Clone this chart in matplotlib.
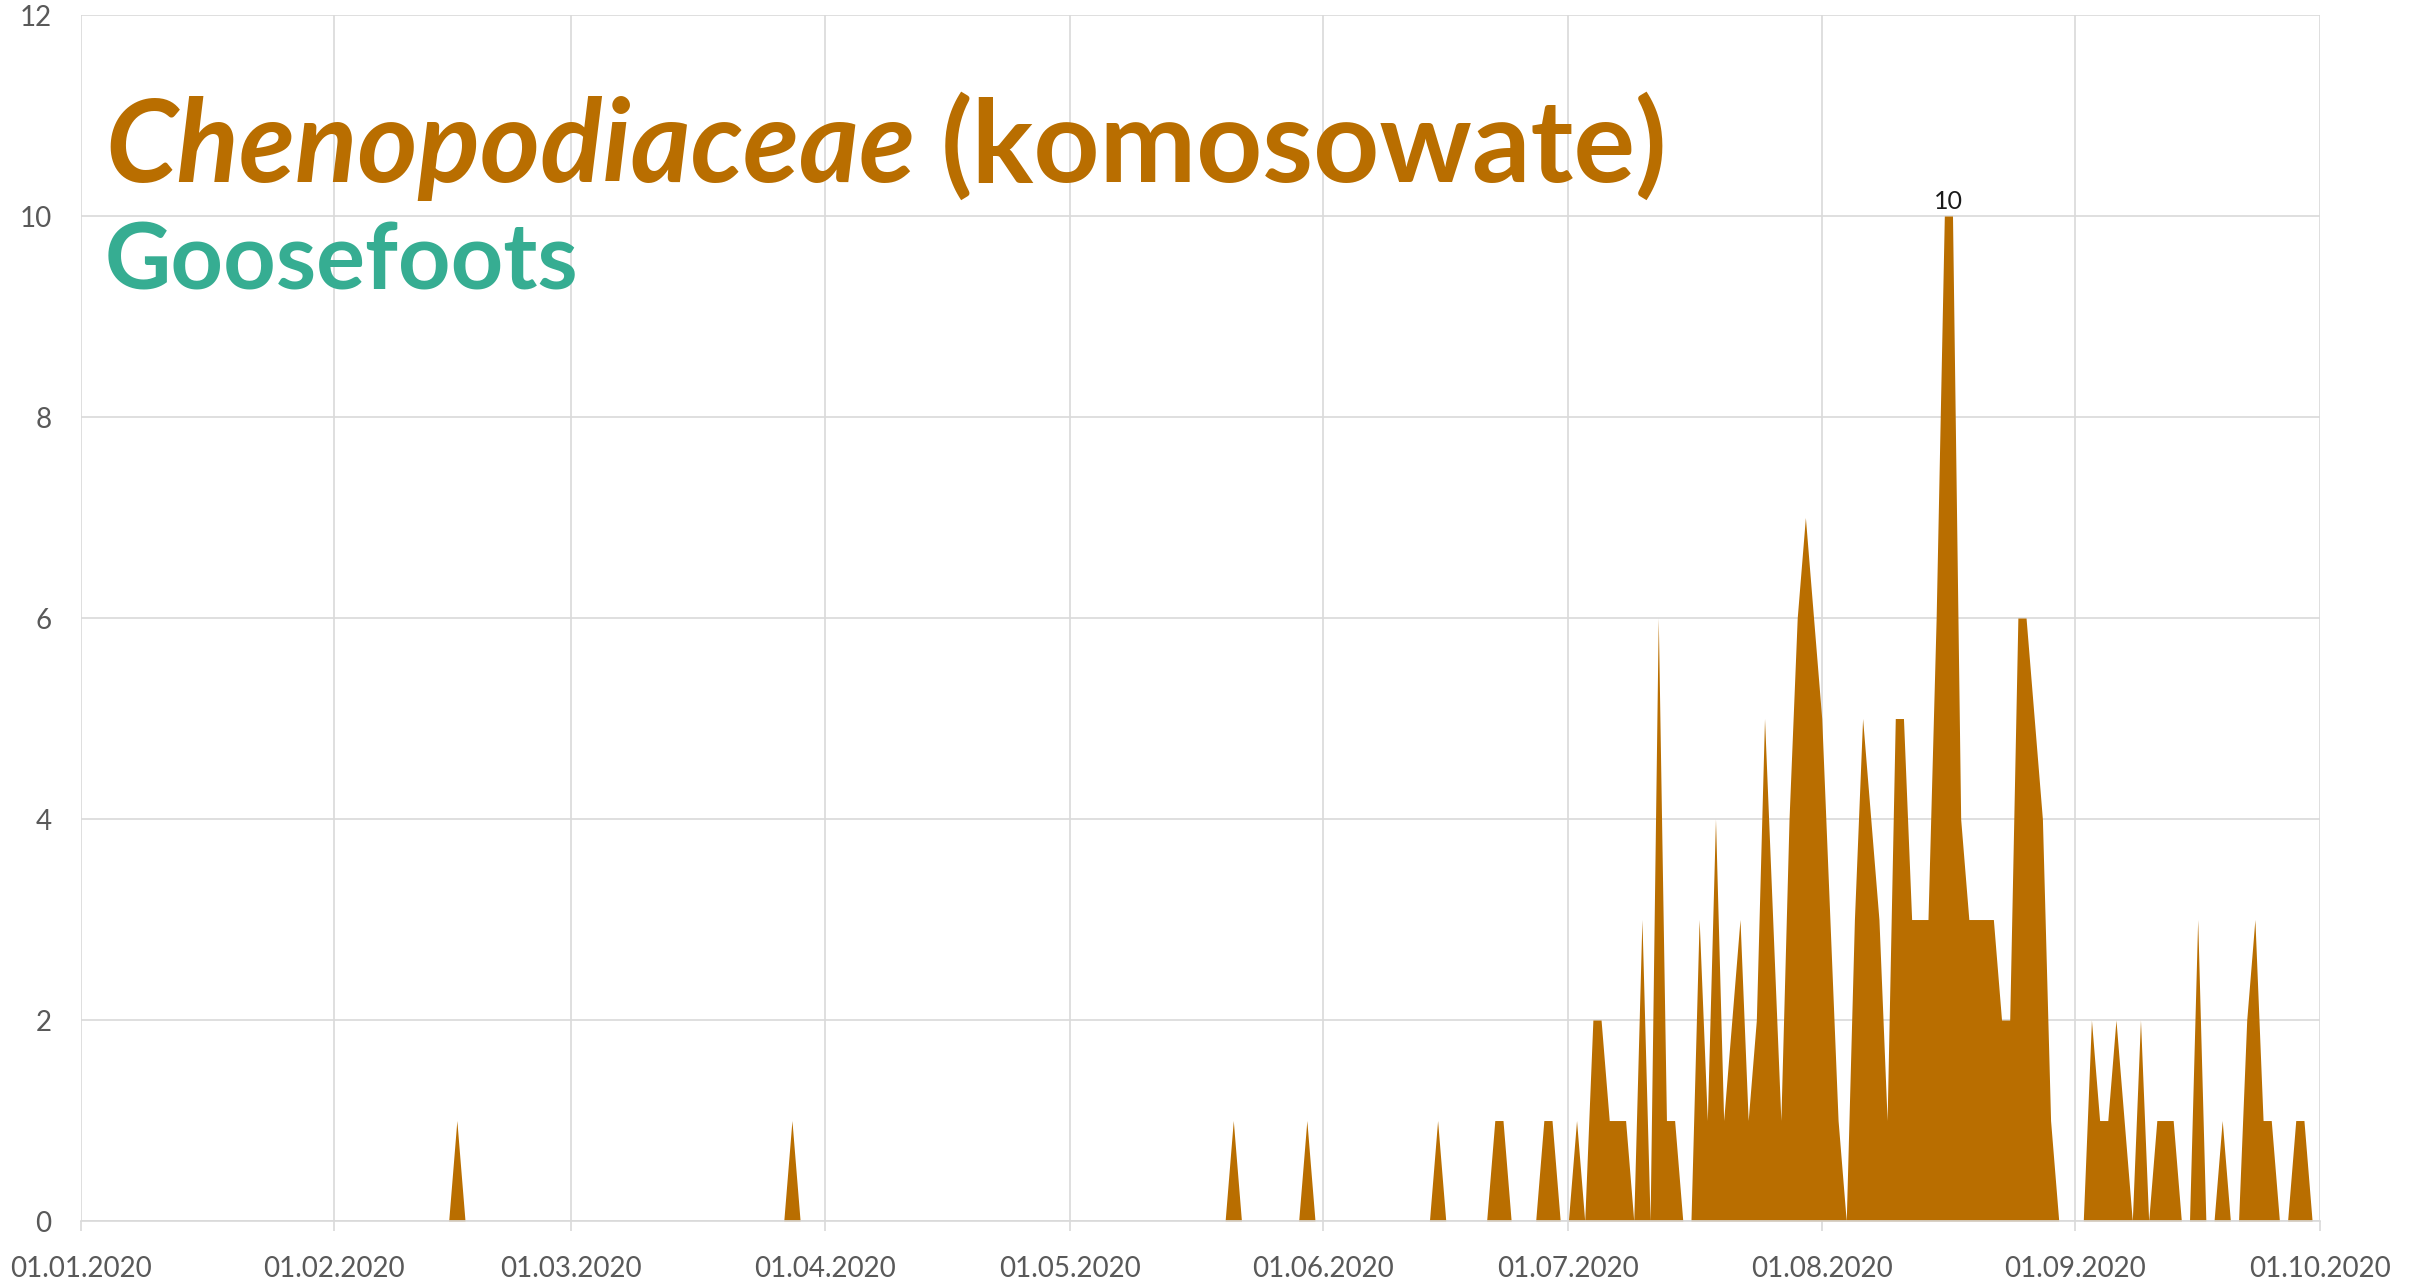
import matplotlib
matplotlib.use("Agg")
import matplotlib.pyplot as plt
import matplotlib.dates as mdates
import pandas as pd

# daily pollen counts, 01.01.2020 - 01.10.2020 (zero unless listed)
early_dates = ["2020-02-16", "2020-03-28", "2020-05-21", "2020-05-30", "2020-06-15",
               "2020-06-22", "2020-06-23", "2020-06-28", "2020-06-29"]
early_counts = [1, 1, 1, 1, 1, 1, 1, 1, 1]

july = [0, 1, 0, 2, 2, 1, 1, 1, 0, 3, 0, 6, 1, 1, 0, 0, 3, 1, 4, 1, 2, 3, 1, 2, 5, 3, 1, 4, 6, 7, 6]
august = [5, 3, 1, 0, 3, 5, 4, 3, 1, 5, 5, 3, 3, 3, 6, 10, 10, 4, 3, 3, 3, 3, 2, 2, 6, 6, 5, 4, 1, 0, 0]
september = [0, 0, 2, 1, 1, 2, 1, 0, 2, 0, 1, 1, 1, 0, 0, 3, 0, 0, 1, 0, 0, 2, 3, 1, 1, 0, 0, 1, 1, 0]

title_latin = "Chenopodiaceae"
title_polish = "(komosowate)"
subtitle = "Goosefoots"

brown = "#B96E00"
teal = "#36AD92"
grid_col = "#D9D9D9"
label_col = "#595959"

days = pd.date_range("2020-01-01", "2020-10-01", freq="D")
counts = pd.Series(0.0, index=days)
counts[pd.to_datetime(early_dates)] = early_counts
counts["2020-07-01":"2020-07-31"] = july
counts["2020-08-01":"2020-08-31"] = august
counts["2020-09-01":"2020-09-30"] = september

plt.rcParams["font.family"] = ["Lato", "DejaVu Sans"]

fig = plt.figure(figsize=(24.22, 12.83), dpi=100)
ax = fig.add_axes([0.0334, 0.0483, 0.9246, 0.94])

ax.fill_between(counts.index, counts.values, color=brown, linewidth=0)

ax.set_xlim(days[0], days[-1])
ax.set_ylim(0, 12)
ax.set_yticks(range(0, 13, 2))
ax.set_xticks(pd.date_range("2020-01-01", "2020-10-01", freq="MS"))
ax.xaxis.set_major_formatter(mdates.DateFormatter("%d.%m.%Y"))

ax.set_axisbelow(True)
ax.grid(True, color=grid_col, linewidth=1.2)
for side in ["top", "right", "left"]:
    ax.spines[side].set_visible(False)
ax.spines["bottom"].set_color(grid_col)
ax.spines["bottom"].set_linewidth(1.2)

ax.tick_params(axis="x", length=7, width=1.2, color=grid_col, labelcolor=label_col,
               labelsize=20, pad=18)
ax.tick_params(axis="y", length=0, labelcolor=label_col, labelsize=20, pad=21)

# label the maximum
peak_day = counts.idxmax()
ax.annotate(f"{int(counts.max())}", (peak_day + pd.Timedelta(hours=12), counts.max()),
            xytext=(0, 2), textcoords="offset points", ha="center", va="bottom",
            fontsize=18, color="#1a1a1a")

t1 = fig.text(0.0434, 0.858, title_latin, style="italic", fontweight="bold",
              fontsize=83, color=brown, va="baseline")
fig.canvas.draw()
bb = t1.get_window_extent()
x2 = (bb.x1 + 26) / fig.bbox.width
fig.text(x2, 0.858, title_polish, fontweight="bold", fontsize=83, color=brown,
         va="baseline")
fig.text(0.0434, 0.774, subtitle, fontweight="bold", fontsize=66, color=teal,
         va="baseline")

fig.savefig("out.png", dpi=100, facecolor="white")
